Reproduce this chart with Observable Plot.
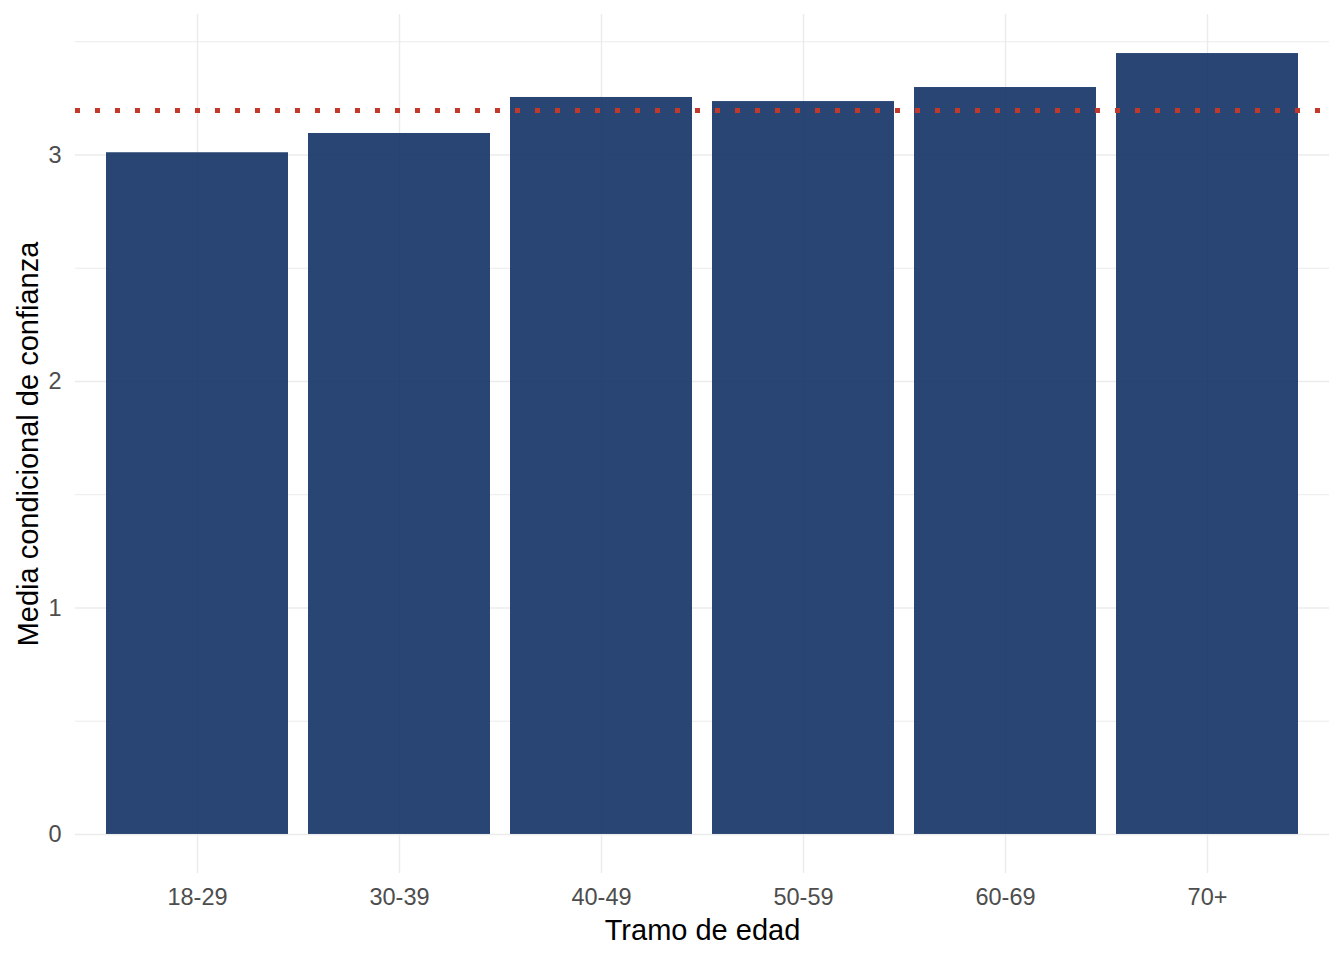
<!DOCTYPE html>
<html>
<head>
<meta charset="utf-8">
<script src="https://cdn.jsdelivr.net/npm/d3@7"></script>
<script src="https://cdn.jsdelivr.net/npm/@observablehq/plot@0.6"></script>
<style>
  body { margin: 0; background: #fff; }
  #chart svg { display: block; }
</style>
</head>
<body>
<div id="chart"></div>
<script>
const categories = ["18-29", "30-39", "40-49", "50-59", "60-69", "70+"];
const values = [3.01, 3.095, 3.254, 3.236, 3.298, 3.448];
const referenceMean = 3.196;
const yMajorTicks = [0, 1, 2, 3];
const yMinorTicks = [0.5, 1.5, 2.5, 3.5];
const xTitle = "Tramo de edad";
const yTitle = "Media condicional de confianza";

const data = categories.map((c, i) => ({ tramo: c, media: values[i] }));

const yMax = d3.max(values);
const ySpan = yMax - 0;
const yDomain = [0 - 0.05 * ySpan, yMax + 0.05 * ySpan];

const font = "'Liberation Sans', Arial, sans-serif";

const chart = Plot.plot({
  width: 1344,
  height: 960,
  marginLeft: 75,
  marginRight: 15,
  marginTop: 14,
  marginBottom: 87,
  style: { fontFamily: font, background: "#fff" },
  x: { domain: categories, paddingInner: 0.1, paddingOuter: 0.15, label: null },
  y: { domain: yDomain, label: null },
  marks: [
    Plot.gridY(yMinorTicks, { stroke: "#ebebeb", strokeOpacity: 1, strokeWidth: 1 }),
    Plot.gridY(yMajorTicks, { stroke: "#ebebeb", strokeOpacity: 1, strokeWidth: 1.4 }),
    Plot.gridX(categories, { stroke: "#ebebeb", strokeOpacity: 1, strokeWidth: 1.4 }),
    Plot.barY(data, { x: "tramo", y1: 0, y2: "media", fill: "#113165", fillOpacity: 0.9 }),
    Plot.ruleY([referenceMean], { stroke: "#c0392b", strokeWidth: 5, strokeDasharray: "5 15" }),
    Plot.axisX({ tickSize: 0, tickPadding: 15, fontSize: 23.5, fill: "#4d4d4d", label: null }),
    Plot.axisY(yMajorTicks, { tickSize: 0, tickPadding: 14, fontSize: 23.5, fill: "#4d4d4d", label: null, tickFormat: d3.format("d") }),
    Plot.text([xTitle], { frameAnchor: "bottom", dy: 57, fontSize: 29, fill: "#000", lineAnchor: "middle", textAnchor: "middle" }),
    Plot.text([yTitle], { frameAnchor: "left", dx: -47, rotate: -90, fontSize: 29, fill: "#000", lineAnchor: "middle", textAnchor: "middle" })
  ]
});

document.getElementById("chart").appendChild(chart);
</script>
</body>
</html>
